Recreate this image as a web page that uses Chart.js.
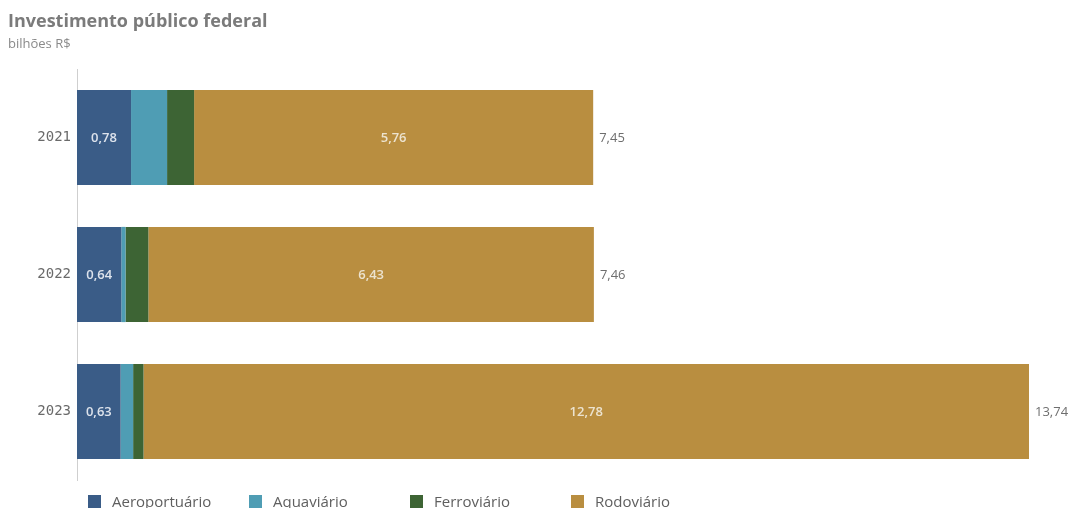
<!DOCTYPE html>
<html>
<head>
<meta charset="utf-8">
<script src="https://cdn.jsdelivr.net/npm/chart.js@4"></script>
<style>
  html, body { margin: 0; padding: 0; background: #fff; }
  #wrap { width: 1079px; height: 508px; position: relative; }
</style>
</head>
<body>
<div id="wrap"><canvas id="grafico"></canvas></div>
<script>
// Dados (bilhões R$)
const anos = ["2021", "2022", "2023"];
const aeroportuario = [0.78, 0.64, 0.63];
const aquaviario = [0.52, 0.06, 0.18];
const ferroviario = [0.39, 0.33, 0.15];
const rodoviario = [5.76, 6.43, 12.78];
const totais = [7.45, 7.46, 13.74];

const series = [
    { label: "Aeroportuário", data: aeroportuario, cor: "#3a5c87", rotulo: true },
    { label: "Aquaviário", data: aquaviario, cor: "#4f9db4", rotulo: false },
    { label: "Ferroviário", data: ferroviario, cor: "#3d6434", rotulo: false },
    { label: "Rodoviário", data: rodoviario, cor: "#b98e40", rotulo: true }
];

const fmt = v => v.toFixed(2).replace(".", ",");

// Título, rótulos e legenda desenhados à mão
const textos = {
    id: "textos",
    beforeDraw(chart) {
        const c = chart.ctx;
        c.save();
        c.textBaseline = "alphabetic";
        c.textAlign = "left";
        c.fillStyle = "#7b7b7b";
        c.font = "bold 18px 'Open Sans', sans-serif";
        c.fillText("Investimento público federal", 8, 27);
        c.fillStyle = "#8a8a8a";
        c.font = "13px 'Open Sans', sans-serif";
        c.fillText("bilhões R$", 8, 48);
        c.restore();
    },
    afterDatasetsDraw(chart) {
        const c = chart.ctx;
        c.save();
        c.textBaseline = "middle";
        c.font = "600 13px 'Open Sans', sans-serif";
        series.forEach((s, i) => {
            if (!s.rotulo) return;
            chart.getDatasetMeta(i).data.forEach((bar, j) => {
                c.textAlign = "center";
                c.fillStyle = i === 0 ? "#dde3ec" : "#ece3cf";
                c.fillText(fmt(s.data[j]), (bar.x + bar.base) / 2, bar.y + 1);
            });
        });
        // totais ao fim de cada barra
        c.font = "13px 'Open Sans', sans-serif";
        const ultima = chart.getDatasetMeta(series.length - 1).data;
        ultima.forEach((bar, j) => {
            c.textAlign = "left";
            c.fillStyle = "#6e6e6e";
            c.fillText(fmt(totais[j]), bar.x + 6, bar.y + 1);
        });
        // legenda
        const area = chart.chartArea;
        c.font = "15px 'Open Sans', sans-serif";
        series.forEach((s, i) => {
            const x = area.left + 11 + i * 161;
            c.fillStyle = s.cor;
            c.fillRect(x, 495, 13, 13);
            c.fillStyle = "#5f5f5f";
            c.textAlign = "left";
            c.fillText(s.label, x + 24, 503);
        });
        c.restore();
    }
};

new Chart(document.getElementById("grafico"), {
    type: "bar",
    data: {
        labels: anos,
        datasets: series.map(s => ({
            label: s.label,
            data: s.data,
            backgroundColor: s.cor,
            borderWidth: 0,
            barPercentage: 0.695,
            categoryPercentage: 1
        }))
    },
    options: {
        indexAxis: "y",
        responsive: true,
        maintainAspectRatio: false,
        animation: false,
        layout: { padding: { top: 69, bottom: 28, left: 0, right: 50 } },
        plugins: {
            legend: { display: false },
            tooltip: { enabled: false }
        },
        scales: {
            x: {
                stacked: true,
                display: false,
                min: 0,
                max: 13.74
            },
            y: {
                stacked: true,
                grid: { display: false, drawTicks: false },
                border: { display: true, color: "#cfcfcf" },
                ticks: {
                    color: "#6a6a6a",
                    padding: 6,
                    font: { family: "'DejaVu Sans Mono', monospace", size: 14 }
                },
                afterFit(scale) { scale.width = 77; }
            }
        }
    },
    plugins: [textos]
});
</script>
</body>
</html>
